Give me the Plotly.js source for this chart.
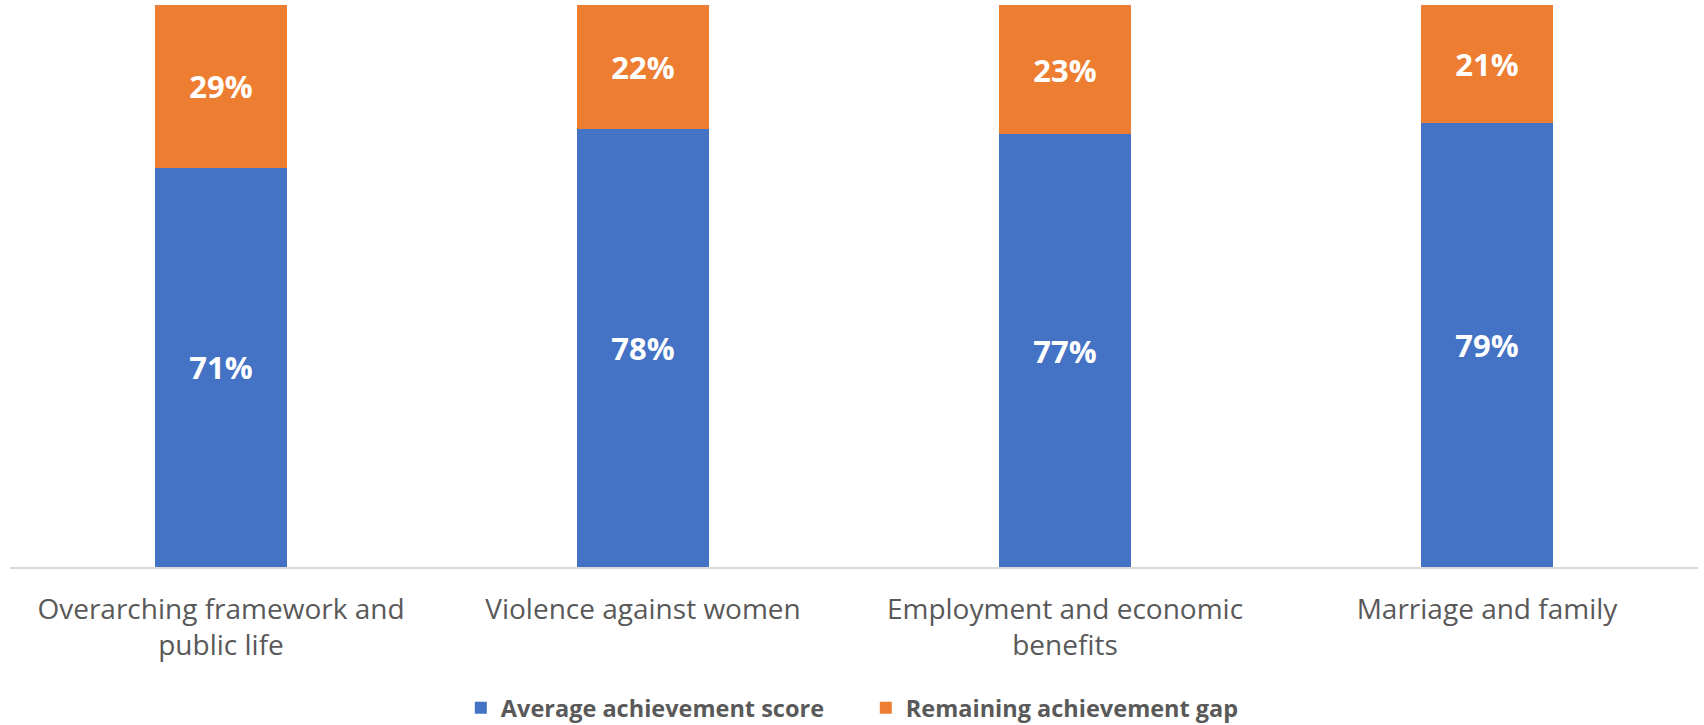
<!DOCTYPE html>
<html>
<head>
<meta charset="utf-8">
<script src="https://cdn.plot.ly/plotly-3.0.1.min.js"></script>
<style>html,body{margin:0;padding:0;background:#fff;}#chart{width:1704px;height:725px;}</style>
</head>
<body>
<div id="chart"></div>
<script>
var categories = ["Overarching framework and<br>public life", "Violence against women", "Employment and economic<br>benefits", "Marriage and family"];
var averageScore = [71, 78, 77, 79];
var remainingGap = [29, 22, 23, 21];
var seriesNames = ["Average achievement score", "Remaining achievement gap"];

function pct(arr){ return arr.map(function(v){ return v + "%"; }); }

var common = {
  type: "bar",
  x: categories,
  width: 0.313,
  textposition: "inside",
  insidetextanchor: "middle",
  textangle: 0,
  textfont: {family: "Open Sans", size: 31, color: "#ffffff", weight: "bold"},
  hoverinfo: "none"
};

var t1 = Object.assign({}, common, {
  y: averageScore, name: seriesNames[0], text: pct(averageScore),
  marker: {color: "#4472C4"}
});
var t2 = Object.assign({}, common, {
  y: remainingGap, name: seriesNames[1], text: pct(remainingGap),
  marker: {color: "#ED7D31"}
});

var layout = {
  width: 1704, height: 725,
  margin: {l: 10, r: 6, t: 5, b: 158, autoexpand: false},
  barmode: "stack",
  paper_bgcolor: "#ffffff", plot_bgcolor: "#ffffff",
  showlegend: true,
  legend: {
    orientation: "h", traceorder: "normal",
    x: 0.507, xanchor: "center", y: -0.251, yanchor: "middle",
    entrywidth: 360, entrywidthmode: "pixels",
    font: {family: "Open Sans", size: 23.5, color: "#595959", weight: "bold"},
    itemclick: false, itemdoubleclick: false
  },
  xaxis: {
    showline: true, linecolor: "#D9D9D9", linewidth: 2,
    ticks: "", showgrid: false, zeroline: false, automargin: false,
    ticklabelstandoff: 16,
    tickfont: {family: "Open Sans", size: 28, color: "#595959"},
    fixedrange: true
  },
  yaxis: {
    range: [0, 100], visible: false, showgrid: false, zeroline: false, fixedrange: true, automargin: false
  }
};

Plotly.newPlot("chart", [t1, t2], layout, {displayModeBar: false, staticPlot: true});
</script>
</body>
</html>
